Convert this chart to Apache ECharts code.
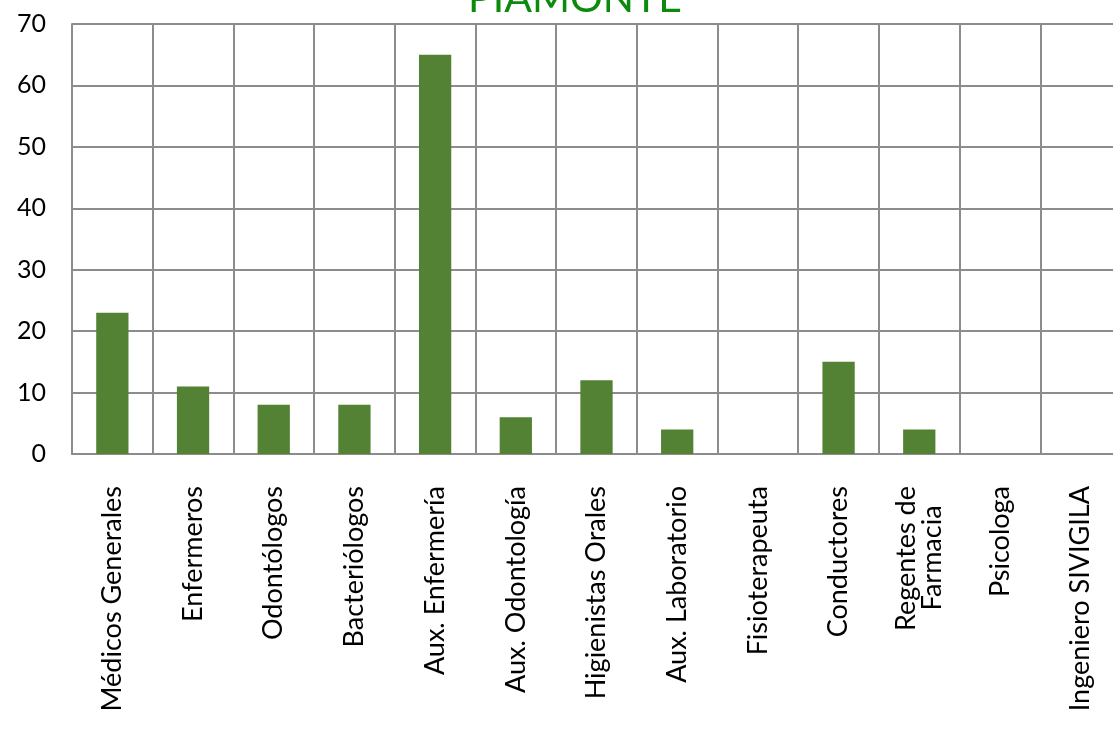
<!DOCTYPE html>
<html>
<head>
<meta charset="utf-8">
<script src="https://cdn.jsdelivr.net/npm/echarts@6/dist/echarts.min.js"></script>
<style>html,body{margin:0;padding:0;background:#fff}#c{width:1113px;height:751px}</style>
</head>
<body>
<div id="c"></div>
<script>
const titleText = "PIAMONTE";
const categories = ["Médicos Generales","Enfermeros","Odontólogos","Bacteriólogos","Aux. Enfermería","Aux. Odontología","Higienistas Orales","Aux. Laboratorio","Fisioterapeuta","Conductores","Regentes de\nFarmacia","Psicologa","Ingeniero SIVIGILA"];
const values = [23,11,8,8,65,6,12,4,0,15,4,0,0];
const yTicks = {min:0,max:70,interval:10};

// centre the lines of multi-line category labels (rotated labels are otherwise end-aligned):
// shorter lines get an invisible filler at their end
const ctx = document.createElement('canvas').getContext('2d');
ctx.font = '27px Lato';
const fillCh = 'i';
const fillW = ctx.measureText(fillCh).width || 6;
function centreLines(v){
  if (v.indexOf('\n') < 0) return v;
  const lines = v.split('\n');
  const widths = lines.map(function(l){ return ctx.measureText(l).width; });
  const maxW = Math.max.apply(null, widths);
  return lines.map(function(l, j){
    const n = Math.round((maxW - widths[j]) / 2 / fillW);
    return '{t|' + l + '}' + (n > 0 ? '{h|' + fillCh.repeat(n) + '}' : '');
  }).join('\n');
}

const chart = echarts.init(document.getElementById('c'));
chart.setOption({
  animation:false,
  title:{text:titleText,left:570,top:-27,textAlign:'center',textStyle:{color:'#0b8a0b',fontSize:41,fontWeight:'normal',fontFamily:'Lato'}},
  grid:{left:72,top:24,right:-8,bottom:297,containLabel:false,outerBoundsMode:'none'},
  xAxis:{type:'category',data:categories,
    axisLine:{lineStyle:{color:'#8c8c8c',width:2}},
    axisTick:{show:false},
    splitLine:{show:true,lineStyle:{color:'#8c8c8c',width:2}},
    axisLabel:{rotate:90,interval:0,margin:32,color:'#000',fontSize:27,fontFamily:'Lato',lineHeight:26,
      formatter:centreLines,
      rich:{
        t:{fontSize:27,fontFamily:'Lato',color:'#000',lineHeight:26},
        h:{fontSize:27,fontFamily:'Lato',color:'rgba(0,0,0,0)',lineHeight:26}
      }}},
  yAxis:{type:'value',min:yTicks.min,max:yTicks.max,interval:yTicks.interval,
    axisLine:{show:true,lineStyle:{color:'#8c8c8c',width:2}},
    splitLine:{lineStyle:{color:'#8c8c8c',width:2}},
    axisLabel:{color:'#000',fontSize:25,fontFamily:'Lato',margin:26}},
  series:[{type:'bar',data:values,barWidth:'40%',itemStyle:{color:'#548235'}}]
});
</script>
</body>
</html>
